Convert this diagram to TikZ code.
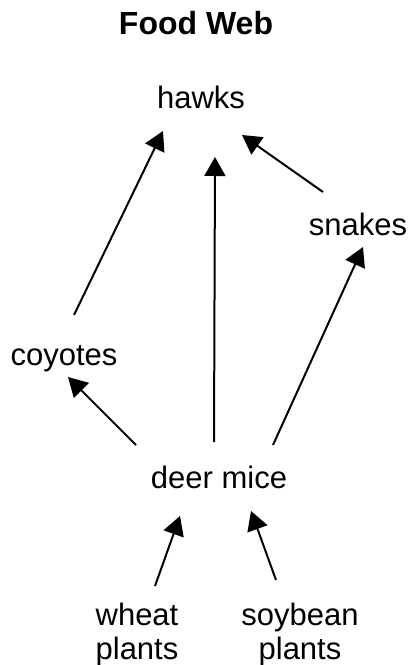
\documentclass[tikz,border=0pt]{standalone}
\usepackage{fontspec}
\setmainfont{Liberation Sans}
\usetikzlibrary{arrows.meta,calc}
\begin{document}
\begin{tikzpicture}[x=1pt,y=-1pt,
  lbl/.style={anchor=base,inner sep=0pt,align=center,font=\fontsize{31}{34}\selectfont},
  ttl/.style={anchor=base,inner sep=0pt,font=\fontsize{32}{36}\selectfont\bfseries},
  link/.style={line width=2pt,-{Triangle[length=19pt,width=21pt]}}]
\useasboundingbox (0,0) rectangle (411,665);
\node[ttl] (title) at (196,34.5) {Food Web};
\node[lbl] (hawks) at (201,108) {hawks};
\node[lbl] (snakes) at (358,235) {snakes};
\node[lbl] (coyotes) at (64,365) {coyotes};
\node[lbl] (deer) at (219,488) {deer mice};
\node[lbl] (wheat) at (137,659) {wheat\\plants};
\node[lbl] (soy) at (300,659) {soybean\\plants};
\draw[link] ($(coyotes.base)+(10,-50)$) -- ($(hawks.base)+(-38,23)$);
\draw[link] ($(deer.base)+(-5,-46)$) -- ($(hawks.base)+(14,49)$);
\draw[link] ($(snakes.base)+(-35,-43)$) -- ($(hawks.base)+(41,27)$);
\draw[link] ($(deer.base)+(-83,-43)$) -- ($(coyotes.base)+(4,12)$);
\draw[link] ($(deer.base)+(54,-43)$) -- ($(snakes.base)+(5,12)$);
\draw[link] ($(wheat.base)+(18,-73)$) -- ($(deer.base)+(-39,28)$);
\draw[link] ($(soy.base)+(-24,-79)$) -- ($(deer.base)+(32,23)$);
\end{tikzpicture}
\end{document}
